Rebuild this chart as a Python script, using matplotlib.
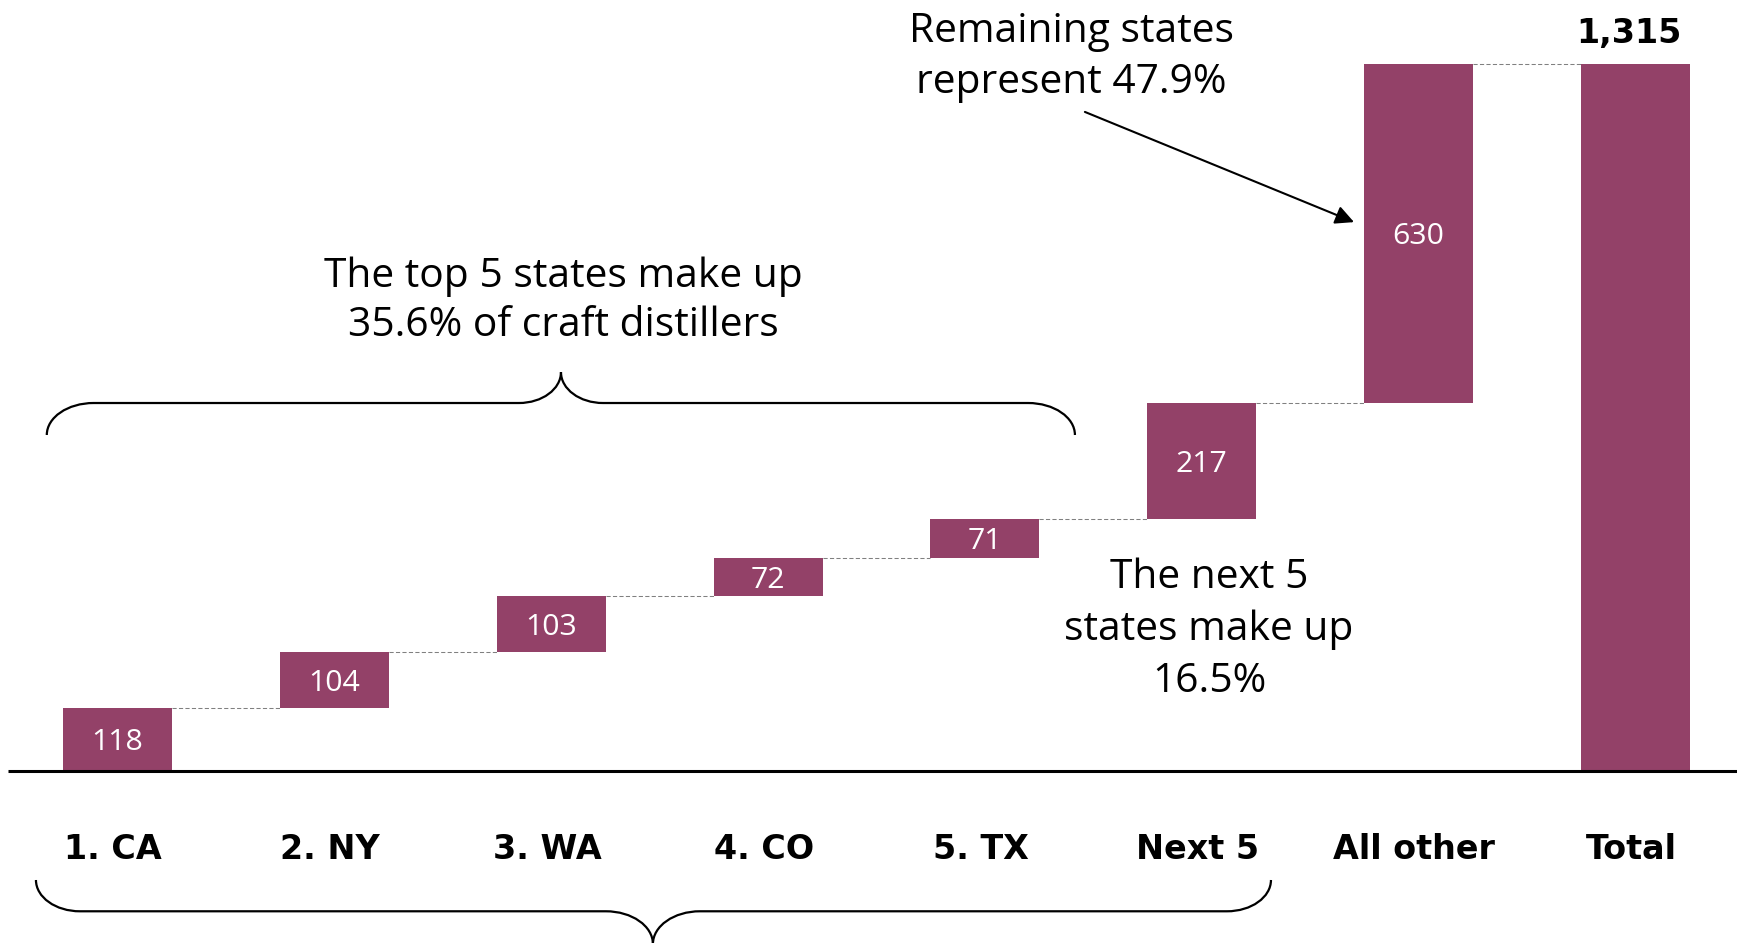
import matplotlib
matplotlib.use("Agg")
import matplotlib.pyplot as plt
from matplotlib.path import Path
from matplotlib.patches import PathPatch

categories = ["1. CA", "2. NY", "3. WA", "4. CO", "5. TX", "Next 5", "All other", "Total"]
values = [118, 104, 103, 72, 71, 217, 630]
total = 1315
total_label = "1,315"

bar_color = "#934168"
regular = ["Open Sans", "DejaVu Sans"]
bold = ["DejaVu Sans"]


def brace(ax, x0, x1, xtip, y_end, y_flat, y_tip, d_end, d_mid, lw=1.6):
    # curly brace built from quarter-ellipse bezier pieces
    k = 0.5523

    def qcurve(p, q, start):
        if start == "v":
            c1 = (p[0], p[1] + k * (q[1] - p[1]))
            c2 = (q[0] - k * (q[0] - p[0]), q[1])
        else:
            c1 = (p[0] + k * (q[0] - p[0]), p[1])
            c2 = (q[0], q[1] - k * (q[1] - p[1]))
        return [c1, c2, q], [Path.CURVE4] * 3

    verts = [(x0, y_end)]
    codes = [Path.MOVETO]
    pts = [((x0 + d_end, y_flat), "v"), None, ((xtip, y_tip), "h"),
           ((xtip + d_mid, y_flat), "v"), None, ((x1, y_end), "h")]
    lines = [(xtip - d_mid, y_flat), (x1 - d_end, y_flat)]
    li = 0
    for item in pts:
        if item is None:
            verts.append(lines[li])
            codes.append(Path.LINETO)
            li += 1
        else:
            v, c = qcurve(verts[-1], item[0], item[1])
            verts += v
            codes += c
    ax.add_patch(PathPatch(Path(verts, codes), fill=False, lw=lw, color="black",
                           capstyle="butt", clip_on=False))


fig = plt.figure(figsize=(17.37, 9.43), dpi=100)
ax = fig.add_axes([0, 0, 1, 1])
ax.set_xlim(-0.5418, 7.468)
ax.set_ylim(-320, 1434.2)
ax.axis("off")

# waterfall bars
cum = 0
bottoms, tops = [], []
for v in values:
    bottoms.append(cum)
    cum += v
    tops.append(cum)
bottoms.append(0)
tops.append(total)
heights = values + [total]
xs = list(range(len(categories)))

ax.bar(xs, heights, bottom=bottoms, width=0.503, color=bar_color, zorder=2)

# dashed connectors
for i in range(len(xs) - 1):
    ax.plot([xs[i] + 0.2515, xs[i + 1] - 0.2515], [tops[i], tops[i]],
            color="#808080", lw=0.75, dashes=(4, 2.2), zorder=1)

# value labels inside bars
for x, b, h in zip(xs[:-1], bottoms[:-1], values):
    ax.text(x, b + h / 2, str(h), color="white", fontsize=21.8, family=regular,
            ha="center", va="center_baseline", zorder=3)

ax.text(xs[-1] - 0.03, total + 39, total_label, fontsize=24, family=bold, fontweight="bold",
        ha="center", va="baseline")

# baseline
ax.plot([-0.505, 7.468], [0, 0], color="black", lw=2.2, zorder=4, solid_capstyle="butt")

# category labels
for x, c in zip(xs, categories):
    ax.text(x - 0.02, -164, c, fontsize=24, family=bold, fontweight="bold",
            ha="center", va="baseline")

# annotations
def lines_text(x, baselines, lines):
    for y, s in zip(baselines, lines):
        ax.text(x, y, s, fontsize=29.3, family=regular, ha="center", va="baseline")

lines_text(4.397, [1356, 1261], ["Remaining states", "represent 47.9%"])
lines_text(2.054, [900, 809], ["The top 5 states make up", "35.6% of craft distillers"])
lines_text(5.033, [340, 244, 147], ["The next 5", "states make up", "16.5%"])

ax.annotate("", xy=(5.702, 1021), xytext=(4.461, 1226),
            arrowprops=dict(arrowstyle="-|>", color="black", lw=1.5,
                            mutation_scale=28, shrinkA=0, shrinkB=0))

# braces
brace(ax, -0.326, 4.415, 2.045, 625, 684.5, 742, 0.216, 0.194)
brace(ax, -0.376, 5.319, 2.469, -202.8, -261, -322, 0.203, 0.217)

fig.savefig("out.png", dpi=100)
